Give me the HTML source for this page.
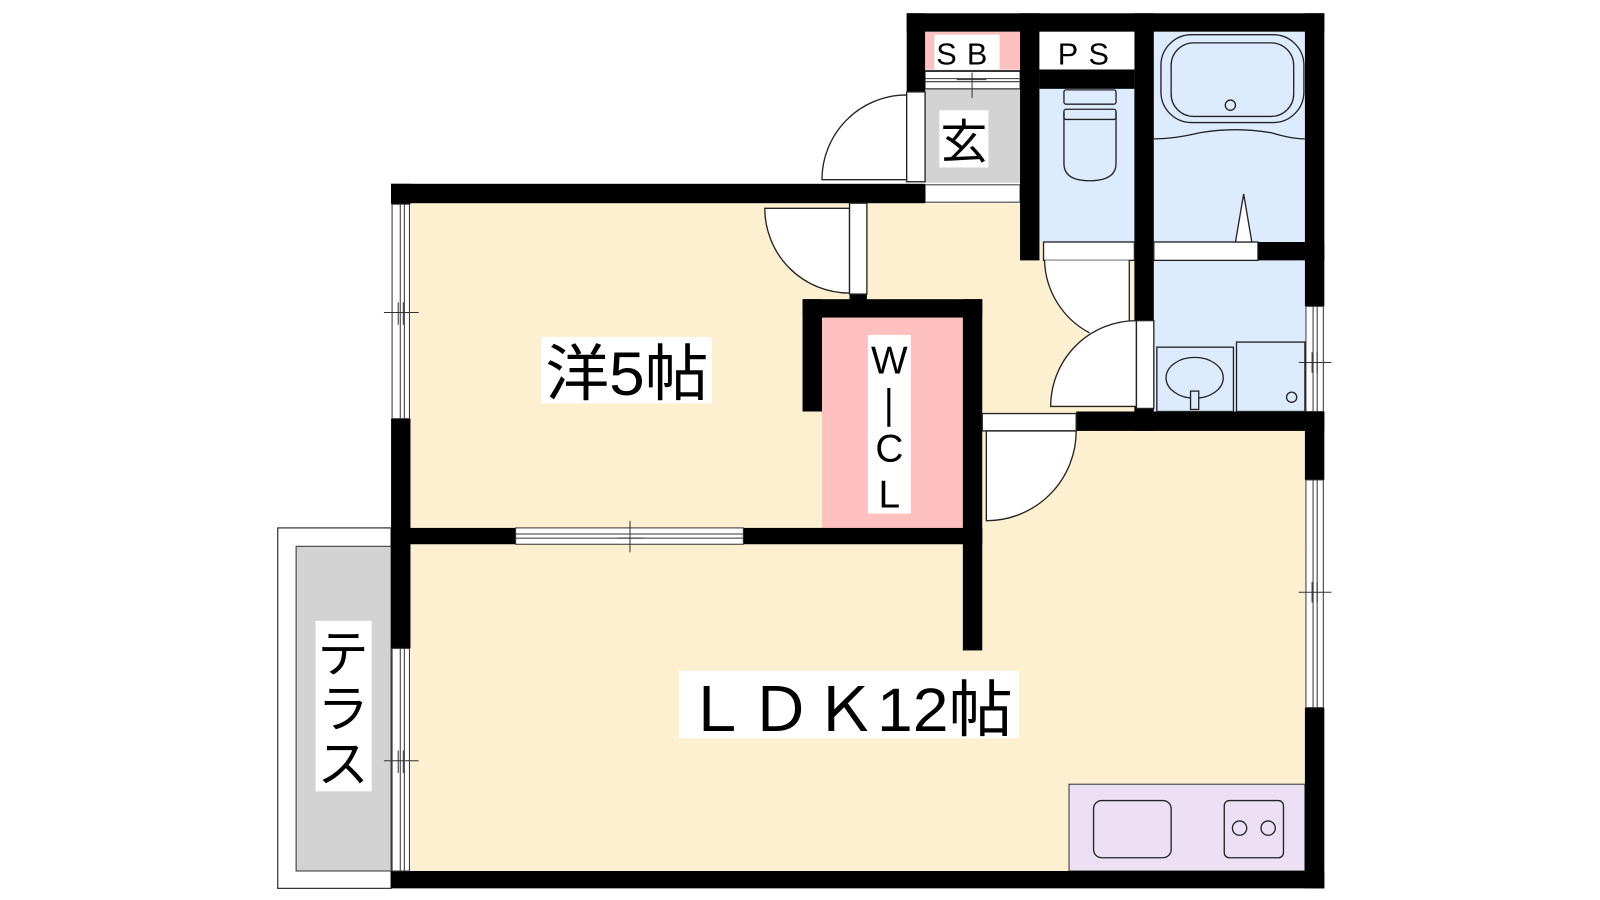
<!DOCTYPE html>
<html><head><meta charset="utf-8"><style>
html,body{margin:0;padding:0;background:#fff;}
svg{display:block;}
text{font-family:"Liberation Sans","Noto Sans CJK JP",sans-serif;}
</style></head><body>
<svg width="1600" height="900" viewBox="0 0 1567 881.4" preserveAspectRatio="none" xmlns="http://www.w3.org/2000/svg">
<rect x="0" y="0" width="1567" height="882" fill="#fff"/>
<!-- floors -->
<rect x="402" y="199" width="550" height="320" fill="#fdf0d0"/>
<rect x="849" y="199" width="264" height="210" fill="#fdf0d0"/>
<rect x="402" y="533" width="876" height="320" fill="#fdf0d0"/>
<rect x="962" y="420" width="316" height="115" fill="#fdf0d0"/>
<rect x="805" y="311" width="138" height="206" fill="#ffc0c0"/>
<rect x="906" y="31" width="93" height="37" fill="#ffc0c0"/>
<rect x="906" y="87" width="93" height="92" fill="#d3d3d3"/>
<rect x="1018" y="87" width="93" height="150" fill="#dcebfd"/>
<rect x="1130" y="31" width="148" height="206" fill="#dcebfd"/>
<rect x="1130" y="255" width="148" height="148" fill="#dcebfd"/>
<rect x="1047" y="768" width="231" height="85" fill="#ede0f5" stroke="#333" stroke-width="1"/>
<!-- terrace -->
<rect x="272" y="517" width="111" height="353" fill="#fff" stroke="#333" stroke-width="1.2"/>
<rect x="290" y="535" width="93" height="318" fill="#d3d3d3" stroke="#333" stroke-width="1"/>
<!-- entry stripes -->
<g stroke="#333" stroke-width="1" fill="none">
<rect x="906" y="69" width="93" height="18" fill="#fff"/>
<line x1="906" y1="70" x2="999" y2="70"/><line x1="906" y1="77" x2="999" y2="77"/><line x1="906" y1="80" x2="999" y2="80"/><line x1="906" y1="87" x2="999" y2="87"/>
<line x1="952" y1="71" x2="952" y2="96"/><line x1="937" y1="78" x2="966" y2="78"/>
<rect x="906" y="181" width="93" height="17" fill="#fff"/>
</g>
<!-- walls -->
<g fill="#000">
<rect x="888" y="13" width="409" height="18"/>
<rect x="888" y="13" width="18" height="77"/>
<rect x="383" y="180" width="523" height="19"/>
<rect x="999" y="13" width="19" height="242"/>
<rect x="1018" y="68" width="93" height="19"/>
<rect x="1111" y="13" width="19" height="409"/>
<rect x="1278" y="13" width="19" height="287"/>
<rect x="1232" y="237" width="65" height="18"/>
<rect x="1054" y="403" width="243" height="19"/>
<rect x="1278" y="403" width="19" height="67"/>
<rect x="1278" y="693" width="19" height="177"/>
<rect x="383" y="853" width="914" height="17"/>
<rect x="383" y="410" width="19" height="225"/>
<rect x="383" y="180" width="19" height="20"/>
<rect x="383" y="517" width="122" height="16"/>
<rect x="728" y="517" width="234" height="16"/>
<rect x="786" y="293" width="176" height="18"/>
<rect x="786" y="293" width="19" height="110"/>
<rect x="943" y="293" width="19" height="344"/>
<rect x="832" y="288" width="17" height="8"/>
</g>
<!-- windows -->
<g fill="#fff" stroke="#333" stroke-width="1">
<rect x="384" y="200" width="17" height="210"/>
<line x1="392" y1="200" x2="392" y2="410"/><line x1="396" y1="200" x2="396" y2="410"/>
<line x1="376" y1="306" x2="410" y2="306"/><line x1="390" y1="296" x2="390" y2="318"/><line x1="395" y1="296" x2="395" y2="318"/>
<rect x="384" y="635" width="17" height="218"/>
<line x1="392" y1="635" x2="392" y2="853"/><line x1="396" y1="635" x2="396" y2="853"/>
<line x1="376" y1="745" x2="410" y2="745"/><line x1="390" y1="735" x2="390" y2="757"/><line x1="395" y1="735" x2="395" y2="757"/>
<rect x="505" y="517" width="223" height="16"/>
<line x1="505" y1="523" x2="728" y2="523"/><line x1="505" y1="527" x2="728" y2="527"/>
<line x1="617" y1="510" x2="617" y2="541"/><line x1="605" y1="523" x2="630" y2="523"/><line x1="605" y1="527" x2="630" y2="527"/>
<rect x="1279" y="470" width="17" height="223"/>
<line x1="1286" y1="470" x2="1286" y2="693"/><line x1="1290" y1="470" x2="1290" y2="693"/>
<line x1="1272" y1="580" x2="1304" y2="580"/><line x1="1285" y1="570" x2="1285" y2="590"/><line x1="1290" y1="570" x2="1290" y2="590"/>
<rect x="1279" y="300" width="17" height="103"/>
<line x1="1286" y1="300" x2="1286" y2="403"/><line x1="1290" y1="300" x2="1290" y2="403"/>
<line x1="1272" y1="355" x2="1304" y2="355"/><line x1="1285" y1="345" x2="1285" y2="365"/><line x1="1290" y1="345" x2="1290" y2="365"/>
</g>
<!-- doors -->
<g fill="#fff" stroke="#222" stroke-width="1.3">
<path d="M805,176 A83,83 0 0 1 888,93 L888,176 Z"/>
<rect x="888" y="90" width="18" height="88"/>
<path d="M749,204 A83,83 0 0 0 832,287 L832,204 Z"/>
<rect x="832" y="199" width="17" height="89"/>
<rect x="1022" y="237" width="89" height="18"/>
<path d="M1023,255 A83,83 0 0 0 1080,333 L1106,333 L1106,255 Z" stroke="none"/>
<path d="M1023,255 A83,83 0 0 0 1067,326"/>
<line x1="1106" y1="255" x2="1106" y2="318"/>
<path d="M1029,398 A84,84 0 0 1 1113,314 L1113,398 Z"/>
<rect x="1113" y="314" width="17" height="86"/>
<rect x="1130" y="237" width="102" height="18"/>
<rect x="962" y="405" width="92" height="17"/>
<path d="M1054,422 A88,88 0 0 1 966,510 L966,422 Z"/>
</g>
<!-- fixtures -->
<g fill="none" stroke="#222" stroke-width="1.3">
<rect x="1137" y="34" width="140" height="86" rx="30"/>
<rect x="1147" y="42" width="120" height="72" rx="22"/>
<circle cx="1205" cy="103" r="5"/>
<path d="M1130,136 Q1150,136 1175,130 Q1210,124 1245,130 Q1265,136 1278,136"/>
<path d="M1210,237 L1218,190 L1226,237 Z" fill="#fff"/>
<rect x="1042" y="88" width="51" height="14" rx="2"/>
<rect x="1042" y="107" width="51" height="10" rx="2"/>
<path d="M1042,110 L1042,160 Q1042,177 1067,177 Q1093,177 1093,160 L1093,110"/>
<rect x="1133" y="340" width="75" height="63"/>
<ellipse cx="1170" cy="370" rx="28" ry="20"/>
<rect x="1166" y="383" width="8" height="18" fill="#dcebfd"/>
<rect x="1211" y="335" width="67" height="68"/>
<circle cx="1265" cy="389" r="5"/>
<rect x="1071" y="784" width="76" height="56" rx="8"/>
<rect x="1199" y="784" width="58" height="56" rx="5"/>
<circle cx="1214" cy="811" r="7"/><circle cx="1242" cy="811" r="7"/>
</g>
<!-- labels -->
<rect x="915" y="34" width="64" height="34" fill="#fff"/>
<text x="947" y="63" font-size="30" text-anchor="middle" letter-spacing="10">SB</text>
<rect x="1018" y="32" width="93" height="36" fill="#fff"/>
<text x="1066" y="63" font-size="30" text-anchor="middle" letter-spacing="10">PS</text>
<rect x="920" y="108" width="48" height="56" fill="#fff"/>
<text x="944" y="155" font-size="46" text-anchor="middle">玄</text>
<rect x="530" y="330" width="167" height="65" fill="#fff"/>
<text x="614" y="387" font-size="60" text-anchor="middle" textLength="160" lengthAdjust="spacingAndGlyphs">洋5帖</text>
<rect x="850" y="328" width="42" height="175" fill="#fff"/>
<text x="871" y="366" font-size="38" text-anchor="middle">W</text>
<rect x="869" y="380" width="3" height="38" fill="#000"/>
<text x="871" y="452" font-size="38" text-anchor="middle">C</text>
<text x="871" y="497" font-size="38" text-anchor="middle">L</text>
<rect x="665" y="657" width="333" height="66" fill="#fff"/>
<text x="831" y="716" font-size="60" text-anchor="middle" textLength="322" lengthAdjust="spacingAndGlyphs">ＬＤＫ12帖</text>
<rect x="309" y="608" width="55" height="167" fill="#fff"/>
<text x="336" y="658" font-size="50" text-anchor="middle">テ</text>
<text x="336" y="712" font-size="50" text-anchor="middle">ラ</text>
<text x="336" y="766" font-size="50" text-anchor="middle">ス</text>
</svg>
</body></html>
